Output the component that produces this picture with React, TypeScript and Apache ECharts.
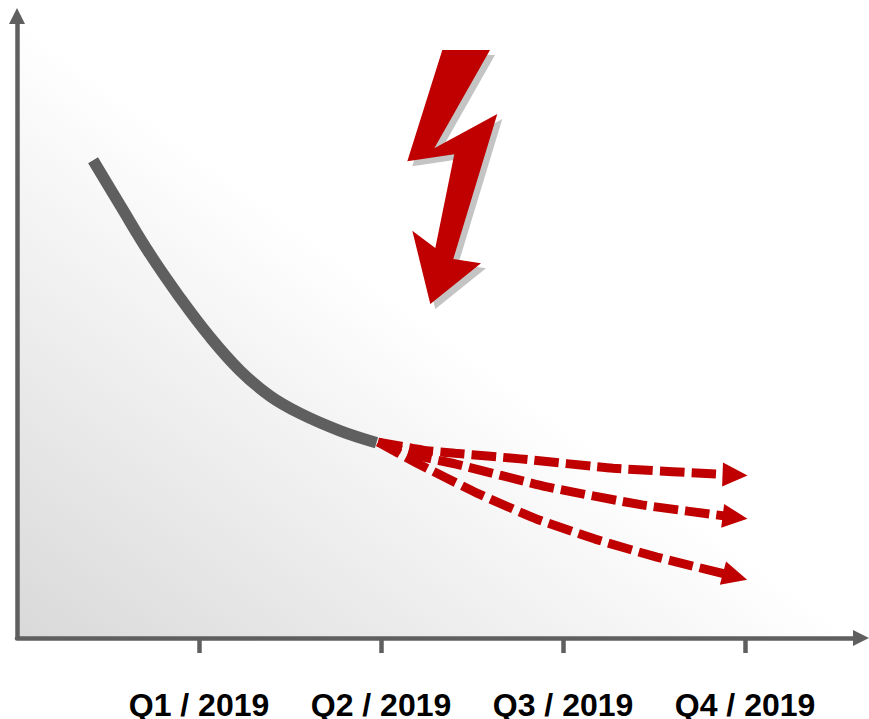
import React, { useEffect, useRef } from "react";
import * as echarts from "echarts";

const W = 869;
const H = 719;

const quarterTicks = [1, 2, 3, 4];
const quarterLabels = ["Q1 / 2019", "Q2 / 2019", "Q3 / 2019", "Q4 / 2019"];

const historyLine = [
  [0.418, 76.8], [0.566, 69.6], [0.731, 61.7], [0.896, 54.7], [1.06, 48.4],
  [1.225, 43.0], [1.39, 38.9], [1.555, 36.1], [1.775, 33.3], [1.975, 31.4],
];
const forecastHigh = [
  [1.984, 31.5], [2.231, 30.2], [2.407, 29.7], [2.764, 28.8], [3.275, 27.3], [3.945, 26.2],
];
const forecastMid = [
  [1.984, 31.5], [2.231, 29.1], [2.407, 28.0], [2.912, 24.3], [3.434, 21.4], [3.945, 19.4],
];
const forecastLow = [
  [1.984, 31.5], [2.198, 28.1], [2.527, 23.3], [2.857, 19.1], [3.176, 15.9], [3.516, 13.0], [3.945, 9.9],
];

const RED = "#c00000";
const GREY = "#5f5f5f";

const boltPoints = [
  [442.3, 50], [490, 50], [434.3, 148.3], [497.3, 114], [453.3, 259], [481, 263.3],
  [430.3, 304], [412.3, 230.7], [435.3, 248], [454.3, 154.3], [407.3, 161.3],
];

function forecastSeries(values: number[][], rotate: number) {
  return {
    type: "line",
    symbol: "none",
    showSymbol: true,
    smooth: 0.15,
    z: 3,
    lineStyle: { color: RED, width: 9, type: [24.5, 7], cap: "butt" },
    itemStyle: { color: RED },
    data: values.map((v, i) =>
      i === values.length - 1
        ? { value: v, symbol: "triangle", symbolSize: [24, 25], symbolRotate: rotate, itemStyle: { color: RED, opacity: 1 } }
        : { value: v }
    ),
  };
}

export default function App() {
  const ref = useRef<HTMLDivElement>(null);
  useEffect(() => {
    const chart = echarts.init(ref.current!, undefined, { renderer: "svg", width: W, height: H });
    const axisLineStyle = { color: GREY, width: 4.5 };
    chart.setOption({
      animation: false,
      grid: {
        show: true,
        left: 17,
        top: 16,
        right: W - 861,
        bottom: H - 638,
        borderWidth: 0,
        outerBoundsMode: "none",
        backgroundColor: new echarts.graphic.LinearGradient(0, 1, 1, 0, [
          { offset: 0, color: "#d9d9d9" },
          { offset: 0.5, color: "#ffffff" },
          { offset: 1, color: "#ffffff" },
        ]),
      },
      xAxis: {
        type: "value",
        min: 0,
        max: 4.637,
        splitLine: { show: false },
        axisLine: { show: true, lineStyle: axisLineStyle, symbol: ["none", "triangle"], symbolSize: [16, 16] },
        axisTick: { show: true, length: 15, lineStyle: { color: GREY, width: 4.5 }, customValues: quarterTicks },
        axisLabel: {
          show: true,
          customValues: quarterTicks,
          margin: 53,
          lineHeight: 28,
          fontFamily: "Liberation Sans",
          fontWeight: "bold",
          fontSize: 32,
          color: "#000000",
          formatter: (v: number) => quarterLabels[quarterTicks.indexOf(v)] ?? "",
        },
      },
      yAxis: {
        type: "value",
        min: 0,
        max: 100,
        splitLine: { show: false },
        axisTick: { show: false },
        axisLabel: { show: false },
        axisLine: { show: true, lineStyle: axisLineStyle, symbol: ["none", "triangle"], symbolSize: [16, 16] },
      },
      series: [
        forecastSeries(forecastHigh, -92),
        forecastSeries(forecastMid, -97),
        forecastSeries(forecastLow, -105),
        {
          type: "line",
          symbol: "none",
          smooth: 0.4,
          z: 4,
          lineStyle: { color: GREY, width: 11.5, cap: "butt" },
          data: historyLine,
        },
      ],
      graphic: [
        { type: "polygon", x: 5, y: 5, z: 10, shape: { points: boltPoints }, style: { fill: "#c4c4c4" } },
        { type: "polygon", z: 11, shape: { points: boltPoints }, style: { fill: RED } },
      ],
    });
    return () => chart.dispose();
  }, []);
  return <div ref={ref} style={{ position: "absolute", left: 0, top: 0, width: W, height: H, overflow: "hidden" }} />;
}
